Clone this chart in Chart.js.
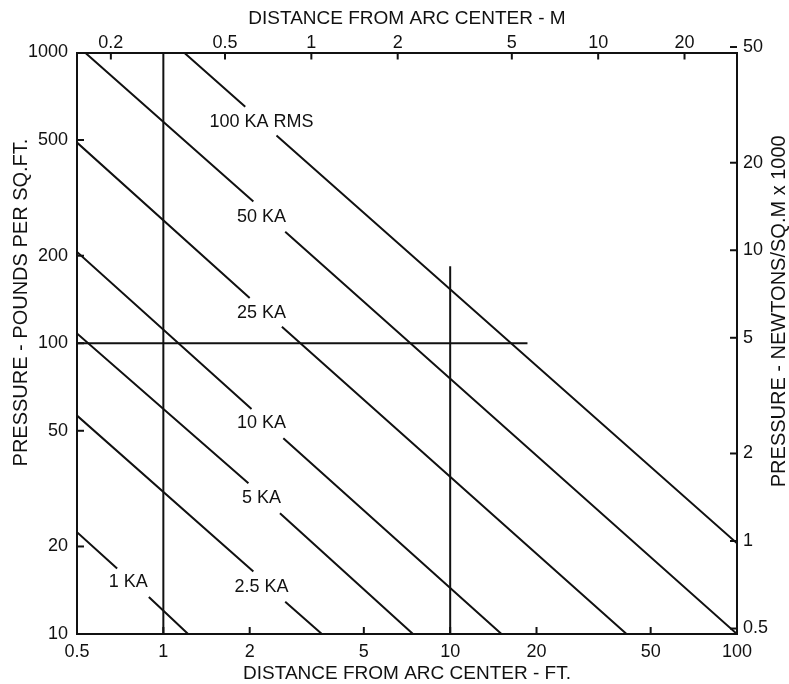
<!DOCTYPE html>
<html>
  <head>
    <meta charset="utf-8" />
    <title>Arc blast pressure vs distance</title>
    <script src="https://cdn.jsdelivr.net/npm/chart.js@4.4.1/dist/chart.umd.min.js"></script>
    <style>
      body { margin: 0; background: #fff; }
    </style>
  </head>
  <body>
    <canvas id="myChart" width="789" height="684"></canvas>
    <script>
      const FT_TO_M = 0.3048;
      const PSF_TO_KN = 0.04788;

      const ftTicks = [0.5, 1, 2, 5, 10, 20, 50, 100];
      const mTicks = [0.2, 0.5, 1, 2, 5, 10, 20];
      const psfTicks = [10, 20, 50, 100, 200, 500, 1000];
      const knTicks = [0.5, 1, 2, 5, 10, 20, 50];

      // one line per current, broken between point 1 and 2 where the label sits
      const currents = ["100 KA RMS", "50 KA", "25 KA", "10 KA", "5 KA", "2.5 KA", "1 KA"];
      const lineX = [
        [1.18, 1.93, 2.48, 100],
        [0.533, 2.06, 2.66, 100],
        [0.5, 2.0, 2.59, 41.2],
        [0.5, 2.03, 2.62, 15.1],
        [0.5, 1.98, 2.55, 7.42],
        [0.5, 2.06, 2.66, 3.57],
        [0.5, 0.69, 0.89, 1.22],
      ];
      const lineY = [
        [1000, 651, 518, 20.5],
        [1000, 307, 242, 10],
        [490, 143, 114, 10],
        [206, 59.4, 47.1, 10],
        [108, 33.0, 26.0, 10],
        [56.4, 16.4, 12.9, 10],
        [22.4, 16.8, 13.4, 10],
      ];
      const labelX = [2.2, 2.2, 2.2, 2.2, 2.2, 2.2, 0.755];
      const labelY = [578, 272, 127, 53.3, 29.3, 14.5, 15.1];

      // example reference lines: 1 ft, 10 ft and 100 psf
      const refX = [[1, 1], [10, 10], [0.5, 18.6]];
      const refY = [[10, 1000], [10, 184], [100, 100]];

      const INK = "#111";
      const FONT = "'Liberation Sans', Arial, sans-serif";
      const TICK = 7;

      Chart.defaults.font.family = FONT;
      Chart.defaults.color = INK;

      const datasets = [];
      currents.forEach((name, i) => {
        const xs = lineX[i], ys = lineY[i];
        datasets.push({
          label: name,
          data: [
            { x: xs[0], y: ys[0] },
            { x: xs[1], y: ys[1] },
            { x: xs[1], y: null },
            { x: xs[2], y: ys[2] },
            { x: xs[3], y: ys[3] },
          ],
        });
      });
      refX.forEach((xs, i) => {
        datasets.push({
          label: "ref" + i,
          data: xs.map((x, j) => ({ x: x, y: refY[i][j] })),
        });
      });
      datasets.forEach((d) => {
        d.borderColor = INK;
        d.borderWidth = 2;
        d.pointRadius = 0;
        d.fill = false;
        d.xAxisID = "x";
        d.yAxisID = "y";
      });

      function logAxis(position, min, max, ticks, size, pad) {
        return {
          type: "logarithmic",
          position: position,
          min: min,
          max: max,
          bounds: "data",
          grid: { display: false, drawTicks: false },
          border: { display: true, color: INK, width: 2 },
          ticks: {
            autoSkip: false,
            maxRotation: 0,
            padding: pad,
            font: { size: 18 },
            color: INK,
            callback: (v) => String(v),
          },
          afterBuildTicks: (s) => {
            s.ticks = ticks.map((v) => ({ value: v }));
          },
          afterFit: (s) => {
            if (s.isHorizontal()) s.height = size;
            else s.width = size;
          },
        };
      }

      const scales = {
        x: logAxis("bottom", 0.5, 100, ftTicks, 50, 7),
        x2: logAxis("top", 0.5 * FT_TO_M, 100 * FT_TO_M, mTicks, 52.5, -1),
        y: logAxis("left", 10, 1000, psfTicks, 77, 9),
        y2: logAxis("right", 10 * PSF_TO_KN, 1000 * PSF_TO_KN, knTicks, 52, 6),
      };
      scales.x.title = {
        display: true,
        text: "DISTANCE FROM ARC CENTER - FT.",
        font: { size: 19 },
        color: INK,
        padding: { top: 0, bottom: -1 },
      };
      scales.x2.title = {
        display: true,
        text: "DISTANCE FROM ARC CENTER - M",
        font: { size: 19 },
        color: INK,
        padding: { top: 7, bottom: 0 },
      };

      const inwardTicks = {
        id: "inwardTicks",
        afterDraw(chart) {
          const ctx = chart.ctx;
          ctx.save();
          ctx.strokeStyle = INK;
          ctx.lineWidth = 2;
          Object.values(chart.scales).forEach((s) => {
            s.ticks.forEach((t) => {
              if (t.value === s.min || t.value === s.max) return;
              const p = s.getPixelForValue(t.value);
              ctx.beginPath();
              if (s.position === "bottom") {
                ctx.moveTo(p, s.top);
                ctx.lineTo(p, s.top - TICK);
              } else if (s.position === "top") {
                ctx.moveTo(p, s.bottom);
                ctx.lineTo(p, s.bottom + TICK);
              } else if (s.position === "left") {
                ctx.moveTo(s.right, p);
                ctx.lineTo(s.right + TICK, p);
              } else {
                ctx.moveTo(s.left, p);
                ctx.lineTo(s.left - TICK, p);
              }
              ctx.stroke();
            });
          });
          ctx.restore();
        },
      };

      const textLabels = {
        id: "textLabels",
        afterDraw(chart) {
          const ctx = chart.ctx;
          const xs = chart.scales.x, ys = chart.scales.y;
          const area = chart.chartArea;
          ctx.save();
          ctx.fillStyle = INK;
          ctx.textAlign = "center";
          ctx.textBaseline = "middle";
          ctx.font = "18px " + FONT;
          currents.forEach((name, i) => {
            ctx.fillText(name, xs.getPixelForValue(labelX[i]), ys.getPixelForValue(labelY[i]));
          });
          // both side titles read bottom to top, sitting a little above mid-height
          ctx.font = "20px " + FONT;
          const h = area.bottom - area.top;
          [
            ["PRESSURE - POUNDS PER SQ.FT.", 21, area.top + h * 0.43],
            ["PRESSURE - NEWTONS/SQ.M x 1000", 779, area.top + h * 0.445],
          ].forEach(([txt, x, y]) => {
            ctx.save();
            ctx.translate(x, y);
            ctx.rotate(-Math.PI / 2);
            ctx.fillText(txt, 0, 0);
            ctx.restore();
          });
          ctx.restore();
        },
      };

      const ctx = document.getElementById("myChart");
      const myChart = new Chart(ctx, {
        type: "line",
        data: { datasets: datasets },
        options: {
          responsive: false,
          animation: false,
          layout: { padding: 0 },
          plugins: { legend: { display: false }, tooltip: { enabled: false } },
          elements: { line: { tension: 0 } },
          scales: scales,
        },
        plugins: [inwardTicks, textLabels],
      });
    </script>
  </body>
</html>
